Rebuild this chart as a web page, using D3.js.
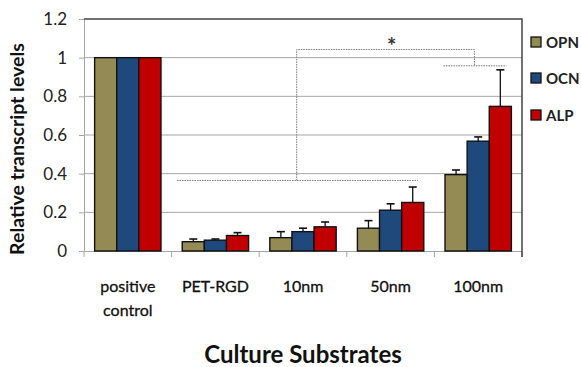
<!DOCTYPE html>
<html><head><meta charset="utf-8">
<script src="https://cdn.jsdelivr.net/npm/d3@7"></script>
<style>body{margin:0;background:#fff}svg{display:block}text{font-family:Lato,"Open Sans",sans-serif}</style>
</head><body>
<svg id="c" width="581" height="367"></svg>
<script>
const categories = ["positive control","PET-RGD","10nm","50nm","100nm"];
const seriesNames = ["OPN","OCN","ALP"];
const opn = [1.0, 0.048, 0.069, 0.118, 0.395];
const ocn = [1.0, 0.056, 0.100, 0.211, 0.568];
const alp = [1.0, 0.080, 0.125, 0.251, 0.748];
const opnErr = [0, 0.014, 0.031, 0.039, 0.024];
const ocnErr = [0, 0.006, 0.018, 0.033, 0.022];
const alpErr = [0, 0.015, 0.025, 0.080, 0.189];
const yTicks = [0, 0.2, 0.4, 0.6, 0.8, 1, 1.2];
const colors = ["#948A54","#1F497D","#C00000"];

const svg = d3.select("#c");
const m = {l:84, r:522, t:19, b:251};
const x = d3.scaleBand().domain(categories).range([m.l, m.r]);
const y = d3.scaleLinear().domain([0,1.2]).range([m.b, m.t]);
const xs = d3.scaleBand().domain(seriesNames).range([0, x.bandwidth()]).paddingOuter(0.48).paddingInner(0);

// gridlines
svg.append("g").selectAll("line").data(yTicks.filter(d=>d>0 && d<1.2)).join("line")
  .attr("x1", m.l).attr("x2", m.r).attr("y1", d=>y(d)).attr("y2", d=>y(d))
  .attr("stroke", "#a6a6a6").attr("stroke-width", 1);

// y axis
const ya = svg.append("g").attr("transform", `translate(${m.l},0)`)
  .call(d3.axisLeft(y).tickValues(yTicks).tickFormat(d=>String(d)).tickSize(5).tickPadding(12));
ya.select(".domain").attr("stroke", "#a6a6a6");
ya.selectAll(".tick line").attr("stroke", "#a6a6a6");
ya.selectAll("text").attr("font-size", 17).attr("fill", "#222").attr("font-family", "Lato");

// x axis
const xa = svg.append("g").attr("transform", `translate(0,${m.b})`)
  .call(d3.axisBottom(x).tickSize(0).tickFormat(""));
xa.select(".domain").attr("stroke", "#a6a6a6");
const bounds = categories.map(c => x(c)).concat([m.r]);
svg.append("g").selectAll("line").data(bounds).join("line")
  .attr("x1", d=>d).attr("x2", d=>d).attr("y1", m.b).attr("y2", m.b+6)
  .attr("stroke", "#a6a6a6");

// top and right border
svg.append("path").attr("d", `M${m.l},${m.t}H${m.r}V${m.b+6}`).attr("fill","none")
  .attr("stroke", "#444").attr("stroke-width", 1.5);

// bars
const data = [opn, ocn, alp];
const errs = [opnErr, ocnErr, alpErr];
seriesNames.forEach((s, si) => {
  const g = svg.append("g");
  g.selectAll("rect").data(categories).join("rect")
    .attr("x", c => x(c) + xs(s)).attr("width", xs.bandwidth())
    .attr("y", (c,i) => y(data[si][i])).attr("height", (c,i) => y(0) - y(data[si][i]))
    .attr("fill", colors[si]).attr("stroke", "#111").attr("stroke-width", 1.4);
  categories.forEach((c, i) => {
    if (errs[si][i] <= 0) return;
    const cx = x(c) + xs(s) + xs.bandwidth()/2;
    const y0 = y(data[si][i]), y1 = y(data[si][i] + errs[si][i]);
    g.append("line").attr("x1", cx).attr("x2", cx).attr("y1", y0).attr("y2", y1).attr("stroke","#111").attr("stroke-width",1.3);
    g.append("line").attr("x1", cx-4).attr("x2", cx+4).attr("y1", y1).attr("y2", y1).attr("stroke","#111").attr("stroke-width",1.6);
  });
});

// significance bracket (dotted)
svg.append("path")
  .attr("d", `M${x("positive control")+93},${y(0.365)}H${x("50nm")+71}` +
             `M${x("10nm")+37.5},${y(0.365)}V${y(1.042)}H${x("100nm")+40}V${y(0.958)}` +
             `M${x("100nm")+9},${y(0.958)}H${x("100nm")+72}`)
  .attr("stroke","#777").attr("stroke-width",1).attr("stroke-dasharray","1.5,1").attr("fill","none");
svg.append("text").attr("x", x("50nm")+45).attr("y", 54)
  .attr("text-anchor","middle").attr("font-size", 22).attr("font-weight","bold").attr("fill","#333").text("*");

// x labels
svg.append("g").selectAll("text").data(categories).join("text")
  .attr("x", c => x(c) + x.bandwidth()/2).attr("y", 292)
  .attr("text-anchor","middle").attr("font-size", 16).attr("fill","#111")
  .attr("stroke","#111").attr("stroke-width",0.3)
  .each(function(c){
    const parts = c === "positive control" ? ["positive","control"] : [c];
    d3.select(this).selectAll("tspan").data(parts).join("tspan")
      .attr("x", x(c) + x.bandwidth()/2).attr("dy", (d,i)=> i ? 24 : 0).text(d=>d);
  });

// axis titles
svg.append("text").attr("transform", "translate(24,149) rotate(-90)")
  .attr("text-anchor","middle").attr("font-size", 19.5).attr("font-weight","bold").attr("fill","#111")
  .text("Relative transcript levels");
svg.append("text").attr("x", 303).attr("y", 363).attr("text-anchor","middle")
  .attr("font-size", 24).attr("font-weight","bold").attr("fill","#111").text("Culture Substrates");

// legend
const lg = svg.append("g").attr("transform", "translate(531,0)");
const ly = [42, 78, 115];
seriesNames.forEach((s, i) => {
  lg.append("rect").attr("x", 0).attr("y", ly[i]-5).attr("width", 10).attr("height", 10)
    .attr("fill", colors[i]).attr("stroke","#111").attr("stroke-width",1.3);
  lg.append("text").attr("x", 15).attr("y", ly[i]+6).attr("font-size", 15).attr("font-weight","bold")
    .attr("fill","#222").text(s);
});
</script>
</body></html>
